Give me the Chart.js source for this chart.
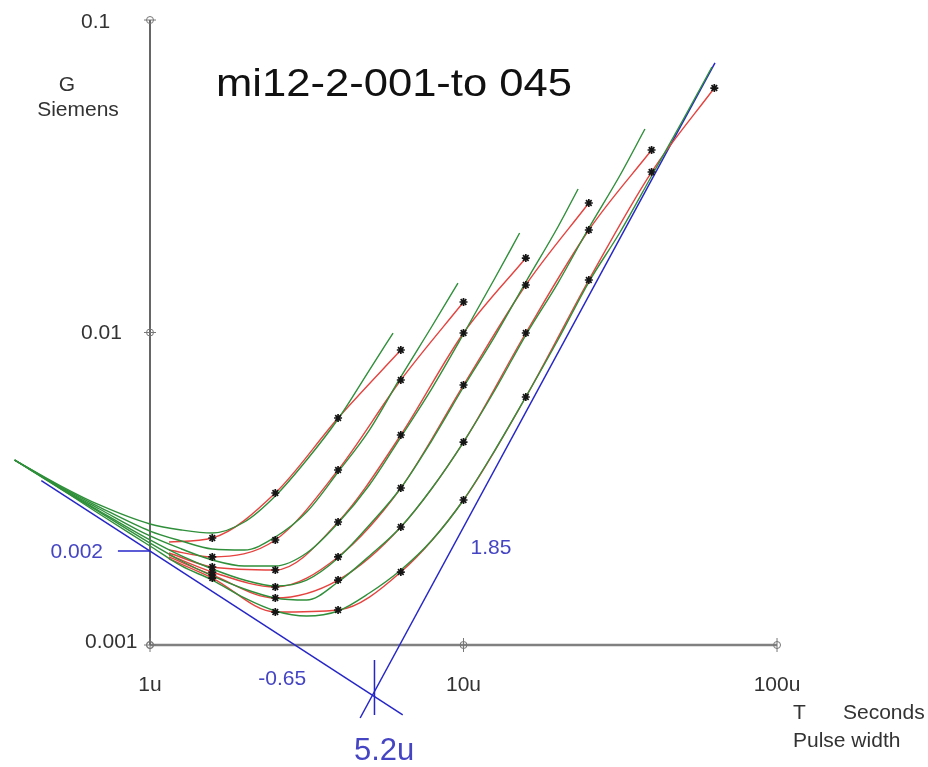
<!DOCTYPE html>
<html><head><meta charset="utf-8">
<script src="https://cdn.jsdelivr.net/npm/chart.js@4/dist/chart.umd.min.js"></script>
<style>html,body{margin:0;padding:0;background:#fff;overflow:hidden}</style>
</head><body>
<canvas id="c" width="928" height="767"></canvas>
<script>
// ---- text ----
const chartTitle = "mi12-2-001-to 045";
const xTickValues = [1, 10, 100];
const xTickLabels = ["1u", "10u", "100u"];
const yTickValues = [0.001, 0.01, 0.1];
const yTickLabels = ["0.001", "0.01", "0.1"];

// ---- fitted model curves (green), pulse width in microseconds, G in siemens ----
const gridX = [0.37, 0.52, 0.69, 1, 1.26, 1.58, 2, 2.51, 3.16, 3.98, 5.01, 6.31, 7.94, 10, 12.6, 15.8, 20, 25.1, 31.6, 39.8, 50.1];
const fitEndX = [5.96, 9.60, 15.1, 23.2, 37.9, 62.0];
const fit1Y = [0.003908, 0.003227, 0.002806, 0.002439, 0.002334, 0.002283, 0.002475, 0.002998, 0.003908, 0.005287, 0.007586, 0.009963];
const fit2Y = [0.003908, 0.003203, 0.002764, 0.002316, 0.002152, 0.002029, 0.002014, 0.002216, 0.002664, 0.003578, 0.004875, 0.007206, 0.010491, 0.014400];
const fit3Y = [0.003908, 0.003180, 0.002724, 0.002233, 0.002029, 0.001871, 0.001790, 0.001790, 0.001970, 0.002457, 0.003251, 0.004630, 0.006643, 0.009890, 0.014941, 0.020817];
const fit4Y = [0.003908, 0.003180, 0.002684, 0.002168, 0.001927, 0.001751, 0.001614, 0.001545, 0.001614, 0.001899, 0.002421, 0.003180, 0.004529, 0.006693, 0.009745, 0.014506, 0.021757, 0.028791];
const fit5Y = [0.003908, 0.003156, 0.002664, 0.002120, 0.001857, 0.001663, 0.001511, 0.001414, 0.001393, 0.001591, 0.001927, 0.002386, 0.003180, 0.004462, 0.006546, 0.009817, 0.014400, 0.021597, 0.031917, 0.044792];
const fit6Y = [0.003908, 0.003156, 0.002625, 0.002074, 0.001790, 0.001614, 0.001414, 0.001285, 0.001238, 0.001285, 0.001467, 0.001738, 0.002168, 0.002911, 0.004207, 0.006218, 0.009462, 0.014506, 0.020971, 0.031681, 0.047863, 0.070724];

// ---- measured curves (red, with markers) ----
const measX = [1.15, 1.58, 2.51, 3.98, 6.31, 10, 15.8, 25.1, 39.8, 63.1];
const meas1Y = [0.002136, 0.002200, 0.003065, 0.005326, 0.008790];
const meas2Y = [0.002014, 0.001913, 0.002168, 0.003631, 0.007047, 0.012520];
const meas3Y = [0.001970, 0.001777, 0.001738, 0.002475, 0.004699, 0.009963, 0.017313];
const meas4Y = [0.001941, 0.001712, 0.001533, 0.001913, 0.003180, 0.006792, 0.014191, 0.025966];
const meas5Y = [0.001913, 0.001675, 0.001414, 0.001614, 0.002386, 0.004462, 0.009963, 0.021282, 0.038373];
const meas6Y = [0.001885, 0.001638, 0.001275, 0.001294, 0.001712, 0.002911, 0.006218, 0.014723, 0.032629, 0.060588];

// ---- blue construction lines ----
const slopeLowX = [0.45, 6.4],  slopeLowY = [0.00336, 0.000598];   // slope -0.65
const slopeHighX = [4.68, 63.4], slopeHighY = [0.000584, 0.0729];  // slope 1.85
const cornerX = [5.2, 5.2],      cornerY = [0.000895, 0.000597];    // 5.2u marker
const refX = [0.79, 1],          refY = [0.002, 0.002];             // 0.002 marker

const GREEN = '#2f8f3a', RED = '#e5433f', BLUE = '#2626c8', BLUE_TXT = '#4545c4';
const pts = (xs, ys) => ys.map((v, i) => ({x: xs[i], y: v}));
let fitEndXIndex = 0;
const fitXs = n => gridX.slice(0, n - 1).concat([fitEndX[fitEndXIndex++]]);
const fits = [fit1Y, fit2Y, fit3Y, fit4Y, fit5Y, fit6Y];
const meas = [meas1Y, meas2Y, meas3Y, meas4Y, meas5Y, meas6Y];

const datasets = [];
const blueLine = (xs, ys) => ({data: pts(xs, ys), borderColor: BLUE, borderWidth: 1.5, pointRadius: 0, order: 10});
datasets.push(blueLine(slopeLowX, slopeLowY), blueLine(slopeHighX, slopeHighY), blueLine(cornerX, cornerY), blueLine(refX, refY));
meas.forEach(m => datasets.push({data: pts(measX, m), borderColor: RED, borderWidth: 1.4, pointRadius: 0, cubicInterpolationMode: 'monotone', order: 6}));
fits.forEach(f => datasets.push({data: pts(fitXs(f.length), f), borderColor: GREEN, borderWidth: 1.4, pointRadius: 0, cubicInterpolationMode: 'monotone', order: 5}));
meas.forEach(m => datasets.push({data: pts(measX, m), showLine: false, pointStyle: 'star',
  pointRadius: c => c.dataIndex === 0 ? 0 : 4, pointBorderColor: '#151515', pointBackgroundColor: '#151515', pointBorderWidth: 1.7, order: 1}));

const deco = {
  id: 'deco',
  beforeDatasetsDraw(chart) {
    const {ctx, scales: {x, y}} = chart;
    const xa = x.getPixelForValue(1), xb = x.getPixelForValue(100);
    const ya = y.getPixelForValue(0.001), yb = y.getPixelForValue(0.1);
    ctx.save();
    ctx.strokeStyle = '#808080'; ctx.lineWidth = 2.5;
    ctx.beginPath(); ctx.moveTo(xa, ya); ctx.lineTo(xb, ya); ctx.stroke();
    ctx.strokeStyle = '#333'; ctx.lineWidth = 1.5;
    ctx.beginPath(); ctx.moveTo(xa, ya); ctx.lineTo(xa, yb); ctx.stroke();
    ctx.strokeStyle = '#777'; ctx.lineWidth = 1;
    xTickValues.forEach(v => {
      const px = x.getPixelForValue(v);
      ctx.beginPath(); ctx.moveTo(px, ya - 7); ctx.lineTo(px, ya + 7); ctx.stroke();
      ctx.beginPath(); ctx.arc(px, ya, 3.5, 0, Math.PI * 2); ctx.stroke();
    });
    yTickValues.forEach(v => {
      const py = y.getPixelForValue(v);
      ctx.beginPath(); ctx.moveTo(xa - 6, py); ctx.lineTo(xa + 6, py); ctx.stroke();
      ctx.beginPath(); ctx.arc(xa, py, 3.5, 0, Math.PI * 2); ctx.stroke();
    });
    ctx.restore();
  },
  afterDatasetsDraw(chart) {
    const {ctx, scales: {x, y}} = chart;
    const F = s => s + 'px "Liberation Sans", Arial, sans-serif';
    ctx.save();
    ctx.textBaseline = 'middle';
    ctx.fillStyle = '#333';
    ctx.font = F(21);
    ctx.textAlign = 'center';
    xTickLabels.forEach((t, i) => ctx.fillText(t, x.getPixelForValue(xTickValues[i]), 685));
    ctx.textAlign = 'left';
    const yLeft = [85, 81, 81], yShift = [-3, 1, 2];
    yTickLabels.forEach((t, i) => ctx.fillText(t, yLeft[i], y.getPixelForValue(yTickValues[i]) + yShift[i]));
    ctx.textAlign = 'center';
    ctx.fillText('G', 67, 85);
    ctx.fillText('Siemens', 78, 110);
    ctx.textAlign = 'left';
    ctx.fillText('T', 793, 713);
    ctx.fillText('Seconds', 843, 713);
    ctx.fillText('Pulse width', 793, 741);
    // title, stretched to the reference width
    ctx.fillStyle = '#111';
    ctx.font = F(38);
    const w = ctx.measureText(chartTitle).width;
    ctx.save();
    ctx.translate(216, 86);
    ctx.scale(356 / w, 1);
    ctx.fillText(chartTitle, 0, 0);
    ctx.restore();
    ctx.fillStyle = BLUE_TXT;
    ctx.font = F(21);
    ctx.textAlign = 'right';
    ctx.fillText('0.002', x.getPixelForValue(0.708), y.getPixelForValue(0.002) + 1);
    ctx.textAlign = 'center';
    ctx.fillText('-0.65', x.getPixelForValue(2.64), y.getPixelForValue(0.000778));
    ctx.fillText('1.85', x.getPixelForValue(12.24), y.getPixelForValue(0.00204));
    ctx.font = F(31);
    ctx.fillText('5.2u', x.getPixelForValue(5.58), y.getPixelForValue(0.000455));
    ctx.restore();
  }
};

new Chart(document.getElementById('c'), {
  type: 'line',
  data: {datasets},
  options: {
    responsive: false, animation: false,
    layout: {padding: 0, autoPadding: false},
    plugins: {legend: {display: false}, tooltip: {enabled: false}},
    scales: {
      x: {type: 'logarithmic', bounds: 'data', min: 0.3323, max: 303.1, display: false, afterFit: s => { s.height = 0; }},
      y: {type: 'logarithmic', bounds: 'data', min: 0.000407, max: 0.1159, display: false, afterFit: s => { s.width = 0; }}
    }
  },
  plugins: [deco]
});
</script>
</body></html>
